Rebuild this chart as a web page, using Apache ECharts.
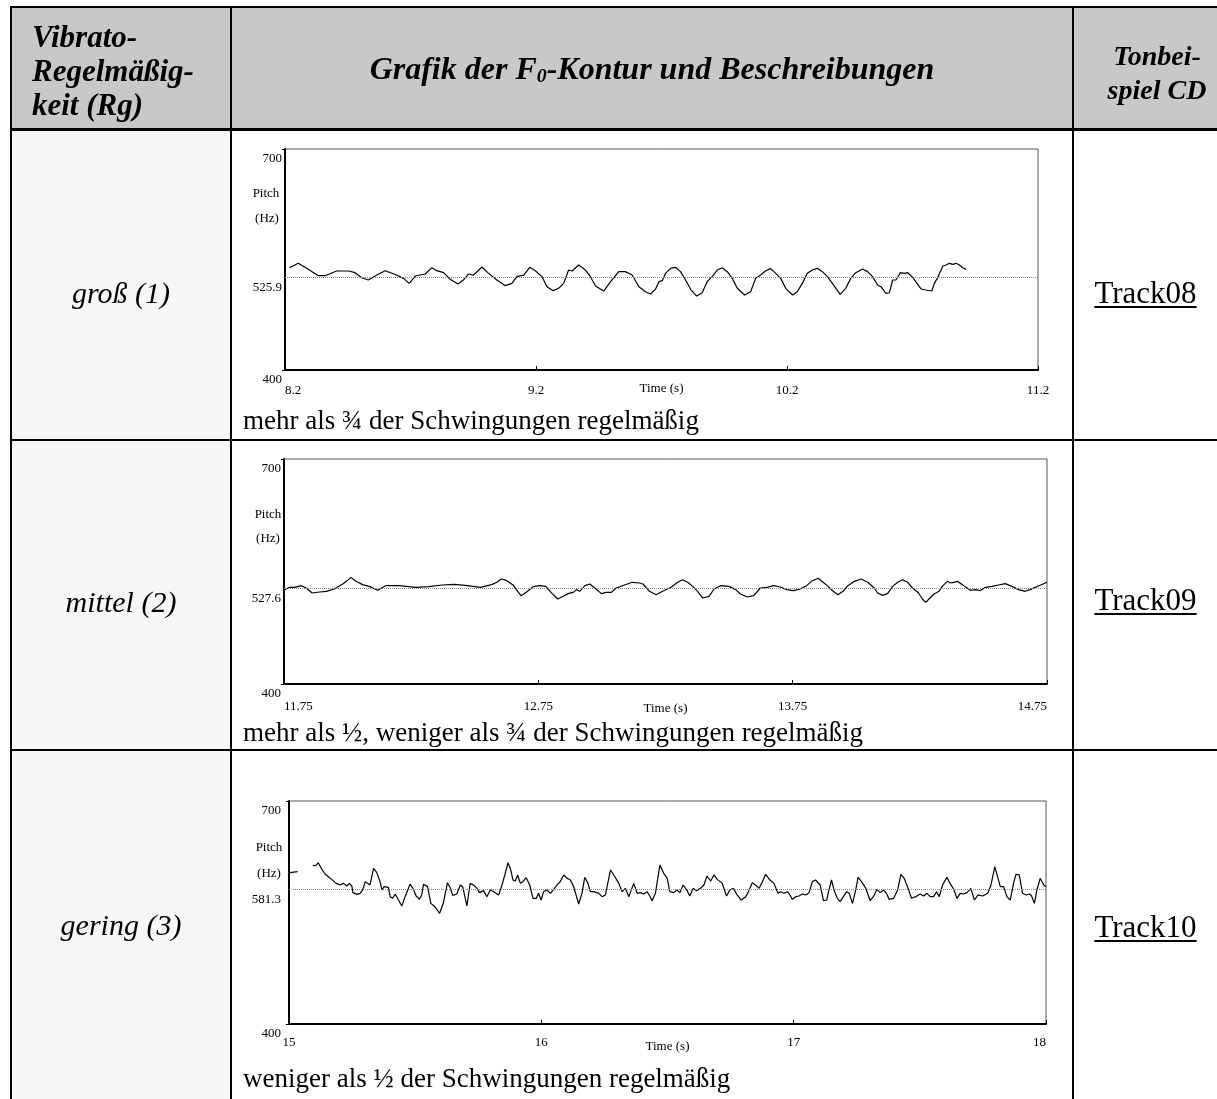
<!DOCTYPE html>
<html><head><meta charset="utf-8">
<script src="https://cdn.jsdelivr.net/npm/echarts@6/dist/echarts.min.js"></script>
<style>
html,body{margin:0;padding:0;background:#fff;}
body{width:1217px;height:1099px;position:relative;overflow:hidden;font-family:'Liberation Serif','Times New Roman',serif;color:#000;}
.abs{position:absolute;}
.b{position:absolute;background:#000;z-index:3;}
.cell{position:absolute;display:flex;align-items:center;justify-content:center;white-space:nowrap;z-index:2;}
.hd{font-weight:bold;font-style:italic;font-size:31px;line-height:34px;}
.hdr{font-weight:bold;font-style:italic;font-size:28px;line-height:34px;}
.hdm{font-weight:bold;font-style:italic;font-size:32px;line-height:34px;}
.rowlab{font-style:italic;font-size:30px;}
.track{font-size:31px;text-decoration:underline;text-underline-offset:3px;text-decoration-thickness:1.5px;}
.desc{position:absolute;left:243px;font-size:27px;line-height:30px;white-space:nowrap;z-index:2;}
.small{position:absolute;font-size:13px;line-height:13px;white-space:nowrap;z-index:2;transform:translate(-50%,-50%);}
sub{font-size:0.62em;position:relative;top:0.35em;vertical-align:baseline;line-height:0;}
</style></head><body>
<div class="abs" style="left:10px;top:6px;width:1207px;height:124px;background:#c8c8c8"></div>
<div class="abs" style="left:12px;top:131px;width:218px;height:968px;background:#f7f7f7"></div>
<div id="chart" class="abs" style="left:0;top:0;width:1217px;height:1099px;z-index:1"></div>

<div class="b" style="left:10px;top:6px;width:1207px;height:2px"></div>
<div class="b" style="left:10px;top:6px;width:2px;height:1093px"></div>
<div class="b" style="left:10px;top:128px;width:1207px;height:3px"></div>
<div class="b" style="left:230px;top:6px;width:2px;height:1093px"></div>
<div class="b" style="left:1072px;top:6px;width:2px;height:1093px"></div>
<div class="b" style="left:10px;top:439px;width:1207px;height:2px"></div>
<div class="b" style="left:10px;top:749px;width:1207px;height:2px"></div>

<div class="cell hd" style="left:32px;top:20px;display:block;">Vibrato-<br>Regelmäßig-<br>keit (Rg)</div>
<div class="cell hdm" style="left:232px;top:6px;width:840px;height:124px;">Grafik der F<sub>0</sub>-Kontur und Beschreibungen</div>
<div class="cell hdr" style="left:1074px;top:39px;width:166px;display:block;text-align:center;">Tonbei-<br>spiel CD</div>

<div class="cell rowlab" style="left:12px;top:273px;width:218px;height:40px;">groß (1)</div>
<div class="cell rowlab" style="left:12px;top:582px;width:218px;height:40px;">mittel (2)</div>
<div class="cell rowlab" style="left:12px;top:905px;width:218px;height:40px;">gering (3)</div>

<div class="cell track" style="left:1074px;top:273px;width:143px;height:40px;">Track08</div>
<div class="cell track" style="left:1074px;top:580px;width:143px;height:40px;">Track09</div>
<div class="cell track" style="left:1074px;top:907px;width:143px;height:40px;">Track10</div>

<div class="desc" style="top:405px;">mehr als ¾ der Schwingungen regelmäßig</div>
<div class="desc" style="top:717px;">mehr als ½, weniger als ¾ der Schwingungen regelmäßig</div>
<div class="desc" style="top:1063px;">weniger als ½ der Schwingungen regelmäßig</div>

<div class="small" style="left:266px;top:192px;">Pitch</div>
<div class="small" style="left:267px;top:217px;">(Hz)</div>
<div class="small" style="left:268px;top:513px;">Pitch</div>
<div class="small" style="left:268px;top:537px;">(Hz)</div>
<div class="small" style="left:269px;top:846px;">Pitch</div>
<div class="small" style="left:269px;top:872px;">(Hz)</div>

<script>
const timeTicks1 = [8.2, 9.2, 10.2, 11.2];
const timeTicks2 = [11.75, 12.75, 13.75, 14.75];
const timeTicks3 = [15, 16, 17, 18];
const pitchRange = [400, 700];
const meanPitch = [525.9, 527.6, 581.3];

const contour1 = [[8.217,538.9],[8.253,544.8],[8.286,538.0],[8.333,528.0],[8.360,528.0],[8.406,534.4],[8.453,534.4],[8.479,532.1],[8.506,525.3],[8.532,522.2],[8.566,528.9],[8.599,534.8],[8.645,528.9],[8.672,524.4],[8.695,517.6],[8.719,527.6],[8.759,530.3],[8.785,538.9],[8.805,534.8],[8.832,532.1],[8.858,523.1],[8.889,516.7],[8.911,522.2],[8.931,530.3],[8.951,528.9],[8.985,539.8],[9.011,531.2],[9.044,522.2],[9.078,514.5],[9.104,517.6],[9.124,526.7],[9.151,528.9],[9.175,539.4],[9.197,534.8],[9.224,526.7],[9.244,513.1],[9.268,507.7],[9.290,510.9],[9.310,517.6],[9.330,535.7],[9.344,534.4],[9.370,542.5],[9.397,535.7],[9.417,526.7],[9.437,514.0],[9.470,507.2],[9.497,519.9],[9.530,533.5],[9.556,533.5],[9.583,528.9],[9.610,513.1],[9.636,506.3],[9.656,503.2],[9.676,509.5],[9.690,519.9],[9.703,521.3],[9.716,531.2],[9.736,538.0],[9.756,539.4],[9.776,533.5],[9.796,522.2],[9.816,509.5],[9.840,500.4],[9.862,504.9],[9.882,519.9],[9.902,526.7],[9.922,535.7],[9.942,538.9],[9.962,533.5],[9.982,524.4],[10.002,510.9],[10.031,501.8],[10.055,506.3],[10.075,524.4],[10.095,528.9],[10.115,534.8],[10.135,537.6],[10.155,531.2],[10.175,524.4],[10.195,510.9],[10.222,501.8],[10.241,506.3],[10.261,517.6],[10.281,531.2],[10.301,535.7],[10.321,538.0],[10.341,533.5],[10.361,526.7],[10.381,517.6],[10.412,502.7],[10.434,510.9],[10.454,524.4],[10.474,532.1],[10.501,537.1],[10.521,533.5],[10.541,526.7],[10.561,515.4],[10.574,513.1],[10.594,504.1],[10.608,504.9],[10.621,522.2],[10.634,522.2],[10.652,532.1],[10.668,531.2],[10.681,532.1],[10.701,525.8],[10.718,517.6],[10.734,510.0],[10.754,508.6],[10.777,507.2],[10.787,517.6],[10.801,525.8],[10.821,541.2],[10.834,542.5],[10.847,544.8],[10.860,543.4],[10.874,544.8],[10.887,542.5],[10.900,538.9],[10.914,536.6]];

const contour2 = [[11.753,525.8],[11.772,528.9],[11.792,528.9],[11.818,531.1],[11.837,528.0],[11.861,521.3],[11.890,522.7],[11.916,523.6],[11.948,526.7],[11.981,533.3],[12.000,538.2],[12.013,542.2],[12.033,536.9],[12.059,532.5],[12.085,530.2],[12.118,524.9],[12.150,531.1],[12.202,531.1],[12.268,528.9],[12.320,529.8],[12.372,532.0],[12.418,532.9],[12.463,531.6],[12.522,528.9],[12.567,532.5],[12.587,535.6],[12.604,540.0],[12.626,537.8],[12.652,531.6],[12.669,523.6],[12.682,517.8],[12.704,522.7],[12.730,529.8],[12.757,531.1],[12.779,530.2],[12.800,522.2],[12.826,513.3],[12.848,516.9],[12.867,520.5],[12.887,522.2],[12.900,525.8],[12.913,523.6],[12.933,531.1],[12.952,533.3],[12.972,528.0],[12.998,520.5],[13.017,522.2],[13.037,522.2],[13.056,528.0],[13.089,532.0],[13.119,535.6],[13.148,534.7],[13.161,533.3],[13.187,523.6],[13.213,519.1],[13.239,523.6],[13.272,528.9],[13.298,535.6],[13.317,539.1],[13.337,535.6],[13.357,530.2],[13.376,523.6],[13.396,514.7],[13.421,516.9],[13.441,526.7],[13.467,531.1],[13.500,530.2],[13.526,525.8],[13.545,520.0],[13.571,516.0],[13.597,517.8],[13.623,528.0],[13.649,528.9],[13.675,531.1],[13.701,529.3],[13.727,525.8],[13.753,524.4],[13.779,526.7],[13.805,531.1],[13.824,536.9],[13.850,540.9],[13.870,535.6],[13.889,530.2],[13.909,523.6],[13.928,519.1],[13.948,523.6],[13.967,531.1],[13.993,536.9],[14.019,540.0],[14.045,535.6],[14.071,528.0],[14.084,521.3],[14.104,518.2],[14.123,520.5],[14.143,530.2],[14.163,535.6],[14.182,539.1],[14.202,535.6],[14.221,528.0],[14.245,521.3],[14.260,513.3],[14.273,508.9],[14.286,513.3],[14.306,520.0],[14.325,523.6],[14.338,530.2],[14.358,536.9],[14.371,534.7],[14.384,535.6],[14.397,536.9],[14.417,532.5],[14.436,528.0],[14.449,524.9],[14.469,525.8],[14.488,524.4],[14.508,528.9],[14.534,530.2],[14.560,532.0],[14.586,533.8],[14.612,530.2],[14.638,525.8],[14.664,523.6],[14.684,525.8],[14.703,528.9],[14.723,531.6],[14.750,535.6]];

const contour3 = [[15.004,603.6],[15.034,604.9],[15.060,'-'],[15.094,613.0],[15.107,613.5],[15.116,617.0],[15.130,608.1],[15.143,601.8],[15.156,598.2],[15.169,594.6],[15.187,589.2],[15.202,587.0],[15.216,589.2],[15.229,585.7],[15.239,589.2],[15.249,585.7],[15.253,576.7],[15.269,574.4],[15.282,575.8],[15.292,580.3],[15.302,591.5],[15.311,589.2],[15.321,587.0],[15.335,609.4],[15.348,603.6],[15.361,591.5],[15.368,580.3],[15.377,584.8],[15.394,583.9],[15.401,571.3],[15.411,569.1],[15.421,574.9],[15.430,569.1],[15.447,558.8],[15.460,571.3],[15.480,588.3],[15.491,582.5],[15.504,572.2],[15.517,567.7],[15.526,573.6],[15.533,587.9],[15.549,584.8],[15.562,562.3],[15.575,558.8],[15.586,554.3],[15.597,548.9],[15.612,563.2],[15.628,590.1],[15.639,583.4],[15.649,573.1],[15.665,574.9],[15.679,587.0],[15.689,583.9],[15.705,558.8],[15.718,589.2],[15.731,587.0],[15.745,582.5],[15.755,576.7],[15.771,579.4],[15.784,571.3],[15.798,580.3],[15.811,578.0],[15.831,573.6],[15.844,587.0],[15.857,602.7],[15.868,617.0],[15.877,609.4],[15.888,593.7],[15.897,592.4],[15.906,600.5],[15.917,589.2],[15.927,591.5],[15.940,596.9],[15.954,587.0],[15.967,569.1],[15.980,569.1],[15.989,575.8],[15.999,566.8],[16.009,578.0],[16.022,580.3],[16.036,575.8],[16.049,581.2],[16.062,587.0],[16.075,591.5],[16.089,600.5],[16.102,596.0],[16.115,593.7],[16.128,584.8],[16.148,561.4],[16.161,575.8],[16.172,597.3],[16.184,590.1],[16.194,578.0],[16.208,578.0],[16.228,575.8],[16.241,571.3],[16.254,573.6],[16.274,607.2],[16.287,600.5],[16.307,589.2],[16.320,578.0],[16.333,582.5],[16.347,571.3],[16.366,589.2],[16.380,575.8],[16.393,576.7],[16.406,574.9],[16.419,578.0],[16.430,572.2],[16.439,565.9],[16.452,575.8],[16.470,613.9],[16.485,602.7],[16.499,596.0],[16.509,578.0],[16.525,576.7],[16.538,580.3],[16.549,576.7],[16.562,587.0],[16.578,579.4],[16.588,572.2],[16.602,582.5],[16.615,579.4],[16.631,582.5],[16.644,587.0],[16.657,599.1],[16.671,592.4],[16.684,600.5],[16.697,594.6],[16.717,589.2],[16.734,572.2],[16.747,580.3],[16.761,582.5],[16.776,573.6],[16.792,566.8],[16.810,571.3],[16.819,576.7],[16.836,590.1],[16.849,587.0],[16.863,582.5],[16.876,591.5],[16.889,601.4],[16.906,593.7],[16.922,589.2],[16.938,575.8],[16.948,578.0],[16.962,575.8],[16.975,578.0],[16.985,573.6],[16.995,567.7],[17.008,571.3],[17.021,572.2],[17.034,574.9],[17.048,573.6],[17.061,576.7],[17.074,591.5],[17.087,593.7],[17.105,587.0],[17.118,565.9],[17.131,566.8],[17.140,580.3],[17.150,593.7],[17.160,580.3],[17.173,569.1],[17.184,564.6],[17.197,571.3],[17.210,578.0],[17.220,575.8],[17.233,562.3],[17.246,580.3],[17.255,597.3],[17.269,591.5],[17.286,582.5],[17.303,565.9],[17.316,571.3],[17.330,581.2],[17.343,576.7],[17.356,580.3],[17.369,574.9],[17.378,567.7],[17.396,569.1],[17.412,580.3],[17.425,601.4],[17.438,596.0],[17.451,584.8],[17.467,569.1],[17.484,571.3],[17.501,574.9],[17.515,572.2],[17.528,575.8],[17.541,571.3],[17.554,571.3],[17.567,578.0],[17.577,571.3],[17.590,587.0],[17.607,597.3],[17.620,589.2],[17.634,581.2],[17.647,569.1],[17.660,575.8],[17.673,574.9],[17.687,576.7],[17.702,582.5],[17.716,566.8],[17.731,573.6],[17.749,572.2],[17.769,575.8],[17.782,587.0],[17.797,611.7],[17.808,598.2],[17.819,584.8],[17.832,584.8],[17.845,571.3],[17.858,566.8],[17.872,590.1],[17.881,601.4],[17.894,600.5],[17.907,575.8],[17.921,573.6],[17.934,574.9],[17.943,572.2],[17.954,562.3],[17.964,580.3],[17.977,596.0],[17.991,587.0],[18.000,584.8]];

const FONT = "'Liberation Serif','Times New Roman',serif";
const panels = [
  {box:{left:285, top:149, width:753, height:221}, ticks:timeTicks1, mean:meanPitch[0], data:contour1, xMargin:14, nameGap:12, minAlign:'left', maxAlign:'center', yMargin:3},
  {box:{left:284, top:459, width:763, height:225}, ticks:timeTicks2, mean:meanPitch[1], data:contour2, xMargin:16, nameGap:18, minAlign:'left', maxAlign:'right', yMargin:3},
  {box:{left:289, top:801, width:757, height:223}, ticks:timeTicks3, mean:meanPitch[2], data:contour3, xMargin:12, nameGap:16, minAlign:'center', maxAlign:'right', yMargin:8}
];

const chart = echarts.init(document.getElementById('chart'));
const option = {
  backgroundColor: 'transparent',
  animation: false,
  grid: panels.map(p => Object.assign({show:true, borderColor:'#555', borderWidth:1, containLabel:false, outerBoundsMode:'none'}, p.box)),
  xAxis: panels.map((p, i) => ({
    gridIndex: i, type: 'value', min: p.ticks[0], max: p.ticks[p.ticks.length - 1],
    axisLine: {show: true, onZero: false, lineStyle: {color: '#000', width: 2}},
    axisTick: {show: true, inside: true, length: 4, customValues: p.ticks, lineStyle: {color: '#000'}},
    axisLabel: {customValues: p.ticks, margin: p.xMargin, fontFamily: FONT, fontSize: 13, color: '#000',
      alignMinLabel: p.minAlign, alignMaxLabel: p.maxAlign, showMinLabel: true, showMaxLabel: true},
    splitLine: {show: false},
    name: 'Time (s)', nameLocation: 'middle', nameGap: p.nameGap, nameMoveOverlap: false,
    nameTextStyle: {fontFamily: FONT, fontSize: 13, color: '#000', verticalAlign: 'top'}
  })),
  yAxis: panels.map((p, i) => ({
    gridIndex: i, type: 'value', min: pitchRange[0], max: pitchRange[1],
    axisLine: {show: true, onZero: false, lineStyle: {color: '#000', width: 2}},
    axisTick: {show: true, inside: false, length: 3, customValues: pitchRange, lineStyle: {color: '#000'}},
    axisLabel: {customValues: [pitchRange[0], p.mean, pitchRange[1]], margin: p.yMargin, fontFamily: FONT,
      fontSize: 13, color: '#000', verticalAlign: 'top', lineHeight: 20, showMinLabel: true, showMaxLabel: true},
    splitLine: {show: false}
  })),
  series: panels.map((p, i) => ({
    type: 'line', xAxisIndex: i, yAxisIndex: i, data: p.data,
    symbol: 'none', showSymbol: false, connectNulls: false,
    lineStyle: {color: '#000', width: 1.2}, silent: true,
    markLine: {silent: true, symbol: ['none', 'none'], label: {show: false},
      lineStyle: {color: '#8a8a8a', type: 'dotted', width: 1}, data: [{yAxis: p.mean}]}
  }))
};
chart.setOption(option);
</script>
</body></html>
